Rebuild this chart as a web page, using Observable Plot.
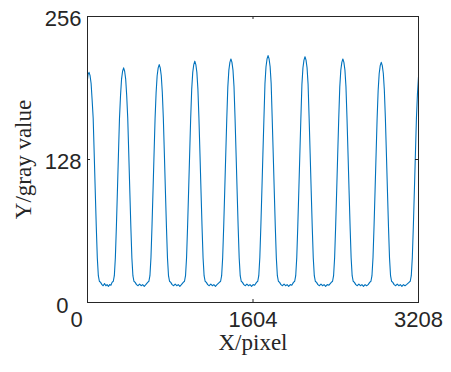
<!DOCTYPE html>
<html><head><meta charset="utf-8">
<script src="https://cdn.jsdelivr.net/npm/d3@7"></script>
<script src="https://cdn.jsdelivr.net/npm/@observablehq/plot@0.6"></script>
<style>body{margin:0;background:#fff}</style>
</head><body><div id="chart"></div>
<script>
// gray-value profile along the X pixel line: [pixel, gray]
const profile = [
  [0,200],[5,204],[15,206],[25,203],[35,196],[45,181],[55,165],[65,133],[75,100],[85,68],[95,40],[105,24],[115,19],[127,18],
  [140,16],[152,15],[165,17],[178,15],[190,16],[203,14.5],[215,16],[227,15.5],[238,18],
  [250,19],[260,24],[270,40],[280,68],[290,100],[300,133],[310,165],[320,185],[330,200],[340,207],[350,210],[360,207],[370,200],[380,185],[390,165],[400,133],[410,100],[420,68],[430,40],[440,24],[450,19],[462,18],
  [475,16],[490,15],[505,16.5],[520,15],[535,16],[550,14.5],[565,16],[583,18],
  [595,19],[605,24],[615,40],[625,68],[635,100],[645,133],[655,165],[665,188],[675,203],[685,210],[695,213],[705,210],[715,203],[725,188],[735,165],[745,133],[755,100],[765,68],[775,40],[785,24],[795,19],[807,18],
  [820,16],[835,15],[850,16.5],[865,15],[880,16],[895,14.5],[910,16],[928,18],
  [940,19],[950,24],[960,40],[970,68],[980,100],[990,133],[1000,165],[1010,191],[1020,206],[1030,213],[1040,216],[1050,213],[1060,206],[1070,191],[1080,165],[1090,133],[1100,100],[1110,68],[1120,40],[1130,24],[1140,19],[1152,18],
  [1165,16],[1180,15],[1195,16.5],[1210,15],[1225,16],[1240,14.5],[1255,16],[1278,18],
  [1290,19],[1300,24],[1310,40],[1320,68],[1330,100],[1340,133],[1350,165],[1360,193],[1370,208],[1380,215],[1390,218],[1400,215],[1410,208],[1420,193],[1430,165],[1440,133],[1450,100],[1460,68],[1470,40],[1480,24],[1490,19],[1502,18],
  [1515,16],[1530,15],[1545,16.5],[1560,15],[1575,16],[1590,14.5],[1605,16],[1620,15.5],[1638,18],
  [1650,19],[1660,24],[1670,40],[1680,68],[1690,100],[1700,133],[1710,165],[1720,196],[1730,211],[1740,218],[1750,221],[1760,218],[1770,211],[1780,196],[1790,165],[1800,133],[1810,100],[1820,68],[1830,40],[1840,24],[1850,19],[1862,18],
  [1875,16],[1890,15],[1905,16.5],[1920,15],[1935,16],[1950,14.5],[1965,16],[1980,15.5],[1996,18],
  [2008,19],[2018,24],[2028,40],[2038,68],[2048,100],[2058,133],[2068,165],[2078,195],[2088,210],[2098,217],[2108,220],[2118,217],[2128,210],[2138,195],[2148,165],[2158,133],[2168,100],[2178,68],[2188,40],[2198,24],[2208,19],[2220,18],
  [2233,16],[2248,15],[2263,16.5],[2278,15],[2293,16],[2308,14.5],[2323,16],[2340,15.5],[2363,18],
  [2375,19],[2385,24],[2395,40],[2405,68],[2415,100],[2425,133],[2435,165],[2445,193],[2455,208],[2465,215],[2475,218],[2485,215],[2495,208],[2505,193],[2515,165],[2525,133],[2535,100],[2545,68],[2555,40],[2565,24],[2575,19],[2587,18],
  [2600,16],[2615,15],[2630,16.5],[2645,15],[2660,16],[2675,14.5],[2690,16],[2705,15],[2720,16],[2735,18],
  [2747,19],[2757,24],[2767,40],[2777,68],[2787,100],[2797,133],[2807,165],[2817,190],[2827,205],[2837,212],[2847,215],[2857,212],[2867,205],[2877,190],[2887,165],[2897,133],[2907,100],[2917,68],[2927,40],[2937,24],[2947,19],[2959,18],
  [2972,16],[2987,15],[3002,16.5],[3017,15],[3032,16],[3047,14.5],[3062,16],[3077,15],[3092,16],[3116,18],
  [3128,19],[3138,24],[3148,40],[3158,68],[3168,100],[3178,133],[3188,165],[3198,187],[3208,202]
];
const xTicks = [0, 1604, 3208];
const yTicks = [0, 128, 256];
const xLabel = "X/pixel";
const yLabel = "Y/gray value";

const sans = "'Liberation Sans', Arial, sans-serif";
const serif = "'Liberation Serif', 'Times New Roman', serif";
const axisColor = "#262626";

const plot = Plot.plot({
  width: 451, height: 372,
  marginLeft: 87, marginRight: 33, marginTop: 16, marginBottom: 70,
  x: {domain: [0, 3208], axis: null},
  y: {domain: [0, 256], axis: null},
  style: {background: "#fff", overflow: "visible"},
  marks: [
    Plot.line(profile, {x: d => d[0], y: d => d[1], stroke: "#0072BD", strokeWidth: 1.1}),
    Plot.frame({stroke: axisColor, strokeWidth: 1}),
    // inward ticks
    Plot.tickX(xTicks, {x: d => d, insetTop: 283, stroke: axisColor}),
    Plot.tickX(xTicks, {x: d => d, insetBottom: 283, stroke: axisColor}),
    Plot.tickY(yTicks, {y: d => d, insetRight: 328, stroke: axisColor}),
    Plot.tickY(yTicks, {y: d => d, insetLeft: 328, stroke: axisColor}),
    // x tick labels
    Plot.text(xTicks.slice(0, 1), {x: d => d, text: d => String(d), frameAnchor: "bottom", dy: 24, dx: -11, fontSize: 22, fontFamily: sans, fill: axisColor}),
    Plot.text(xTicks.slice(1), {x: d => d, text: d => String(d), frameAnchor: "bottom", dy: 24, fontSize: 22, fontFamily: sans, fill: axisColor}),
    // y tick labels
    Plot.text(yTicks.slice(0, 1), {y: d => d, text: d => String(d), frameAnchor: "left", textAnchor: "end", dx: -19, dy: 3, fontSize: 22, fontFamily: sans, fill: axisColor}),
    Plot.text(yTicks.slice(1), {y: d => d, text: d => String(d), frameAnchor: "left", textAnchor: "end", dx: -6, dy: 2, fontSize: 22, fontFamily: sans, fill: axisColor}),
    // axis titles
    Plot.text([xLabel], {text: d => d, frameAnchor: "bottom", textAnchor: "middle", dy: 47, fontSize: 23, fontFamily: serif, fill: axisColor}),
    Plot.text([yLabel], {text: d => d, frameAnchor: "left", textAnchor: "middle", rotate: -90, dx: -64, fontSize: 23, fontFamily: serif, fill: axisColor})
  ]
});
document.getElementById("chart").appendChild(plot);
</script>
</body></html>
